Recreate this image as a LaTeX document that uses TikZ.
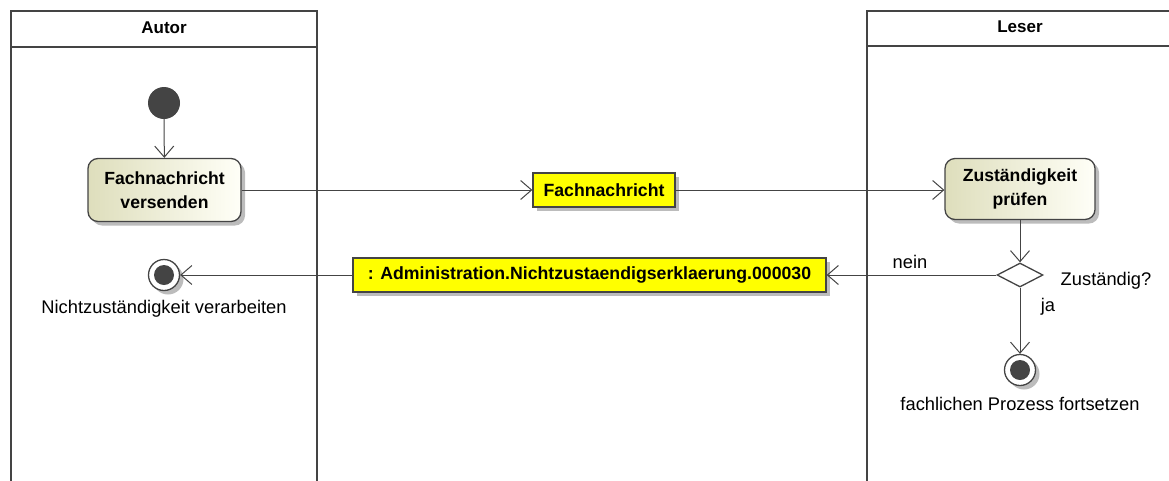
\documentclass[tikz,border=0pt]{standalone}
\usepackage{fontspec}
\setmainfont{Liberation Sans}
\usetikzlibrary{arrows.meta,shapes.geometric,shadows,positioning}
\definecolor{lanegray}{RGB}{68,68,68}
\definecolor{actionbeige}{RGB}{222,222,188}
\definecolor{objyellow}{RGB}{255,255,0}
\definecolor{shadowgray}{RGB}{165,165,165}

\begin{document}
\begin{tikzpicture}[x=1pt,y=-1pt]

\tikzset{line/.style={draw=lanegray,line width=1pt}}
\tikzset{arrow/.style={line,-{Straight Barb[length=11pt,width=19pt]}}}
\tikzset{lane/.style={draw=lanegray,line width=2.8pt}}
\tikzset{textnode/.style={inner sep=0pt,font=\fontsize{18.3}{20}\selectfont}}
\tikzset{titlenode/.style={textnode,font=\fontsize{17}{20}\selectfont\bfseries}}
\tikzset{boxshadow/.style={drop shadow={shadow xshift=4pt,shadow yshift=-4pt,fill=shadowgray,opacity=0.75}}}
\tikzset{action/.style={line,line width=1.3pt,rectangle,rounded corners=10pt,minimum width=153pt,minimum height=63pt,inner sep=0pt,align=center,font=\fontsize{17.6}{24}\selectfont\bfseries,boxshadow,left color=actionbeige,right color=white!97!yellow}}
\tikzset{object/.style={line,line width=1.3pt,rectangle,fill=objyellow,minimum height=34pt,inner sep=0pt,font=\fontsize{17.7}{20}\selectfont\bfseries,boxshadow}}
\tikzset{startnode/.style={circle,fill=lanegray,minimum size=32pt,inner sep=0pt}}
\tikzset{finalnode/.style={circle,line,line width=1.3pt,fill=white,minimum size=31pt,inner sep=0pt,boxshadow,path picture={\fill[lanegray] (path picture bounding box.center) circle (10pt);}}}
\tikzset{decision/.style={diamond,line,line width=1.3pt,fill=white,minimum width=46pt,minimum height=24pt,inner sep=0pt,shape aspect=2}}

\useasboundingbox (0,0) rectangle (1169,480);
\clip (0,0) rectangle (1169,480);

% swimlanes
\draw[lane] (11,495) -- (11,11) -- (317,11) -- (317,495);
\draw[lane] (11,47) -- (317,47);
\draw[lane] (867,495) -- (867,11) -- (1180,11);
\draw[lane] (867,46) -- (1180,46);

\node[titlenode] (autor) at (164,28) {Autor};
\node[titlenode] (leser) at (1020,27) {Leser};

% activities
\node[startnode] (start) at (164,103) {};
\node[action] (send) at (164.5,190) {Fachnachricht\\versenden};
\node[object,minimum width=142pt] (msg) at (604,190) {Fachnachricht};
\node[action,minimum width=150pt,minimum height=61pt] (check) at (1020,189) {Zuständigkeit\\prüfen};
\node[decision] (dec) at (1020,275) {};
\node[object,minimum width=473pt] (reply) at (589.5,275) {: Administration.Nichtzustaendigserklaerung.000030};
\node[finalnode] (endA) at (164,275) {};
\node[finalnode] (endB) at (1020,370) {};

\node[textnode] (endAlabel) at (164,309) {Nichtzuständigkeit verarbeiten};
\node[textnode] (endBlabel) at (1020,404) {fachlichen Prozess fortsetzen};
\node[textnode] (question) at (1106,281) {Zuständig?};
\node[textnode] (nein) at (910,262) {nein};
\node[textnode] (ja) at (1048,307) {ja};

% flows
\path[arrow] (start) -- (send);
\path[arrow] (send.east) -- (msg.west);
\path[arrow] (msg.east) -- (msg.east -| check.west);
\path[arrow] (check) -- (dec);
\path[arrow] (dec.west) -- (reply);
\path[arrow] (reply) -- (endA);
\path[arrow] (dec.south) -- (endB);

\end{tikzpicture}
\end{document}
